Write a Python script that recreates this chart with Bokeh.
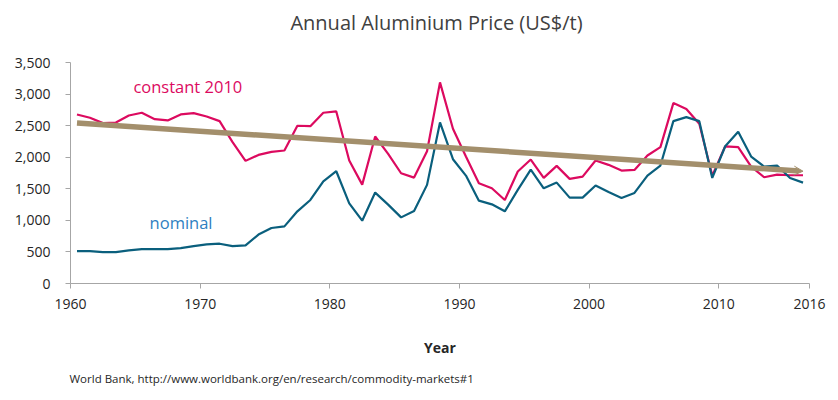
from bokeh.plotting import figure
from bokeh.models import (Range1d, FixedTicker, NumeralTickFormatter, Label, Title,
                          Arrow, OpenHead)
from bokeh.embed import file_html
from bokeh.resources import INLINE

years = list(range(1960, 2017))
constant_2010 = [2677, 2625, 2540, 2550, 2661, 2704, 2603, 2582, 2677, 2698,
                 2645, 2571, 2238, 1942, 2037, 2085, 2106, 2498, 2492, 2704,
                 2725, 1947, 1566, 2328, 2053, 1746, 1677, 2095, 3185, 2450,
                 2011, 1587, 1508, 1323, 1773, 1963, 1672, 1863, 1657, 1693,
                 1947, 1879, 1789, 1799, 2027, 2159, 2857, 2762, 2530, 1709,
                 2173, 2159, 1852, 1683, 1725, 1714, 1714]
nominal = [514, 514, 498, 498, 524, 545, 545, 545, 561, 593,
           619, 630, 593, 603, 775, 879, 905, 1143, 1323, 1619,
           1778, 1270, 995, 1440, 1249, 1047, 1149, 1562, 2550, 1968,
           1709, 1312, 1254, 1143, 1482, 1804, 1508, 1598, 1360, 1360,
           1551, 1450, 1355, 1434, 1709, 1868, 2571, 2635, 2571, 1672,
           2173, 2403, 2011, 1852, 1868, 1672, 1598]
trend_x = [1960.5, 2016.5]
trend_y = [2540, 1778]
x_ticks = [1960, 1970, 1980, 1990, 2000, 2010, 2017]
x_tick_labels = {2017: "2016"}
y_ticks = [0, 500, 1000, 1500, 2000, 2500, 3000, 3500]
y_max = 3500

FONT = "Open Sans"
PINK = "#DC0A5F"
TEAL = "#0A5F7D"
TAN = "#A38F6C"
AXIS = "#A6A6A6"

# frame spans the whole canvas height above the x axis; the axis itself stops at y_max
FRAME_H = 283
AXIS_TOP = 62
y_top = y_max * FRAME_H / (FRAME_H - AXIS_TOP)

# data placed in the middle of each year's slot
xs = [y + 0.5 for y in years]

p = figure(width=838, height=400, output_backend="svg", toolbar_location=None,
           x_range=Range1d(1960, 2017), y_range=Range1d(0, y_top),
           min_border_left=70, min_border_right=29, min_border_top=0,
           min_border_bottom=117)
p.outline_line_color = None
p.grid.visible = False
p.background_fill_color = "white"
p.border_fill_color = "white"

p.line(xs, constant_2010, line_color=PINK, line_width=2.2)
p.line(xs, nominal, line_color=TEAL, line_width=2.2)
p.add_layout(Arrow(x_start=trend_x[0], y_start=trend_y[0], x_end=trend_x[1], y_end=trend_y[1],
                   line_color=TAN, line_width=5.5,
                   end=OpenHead(size=9, line_color=TAN, line_width=1)))

p.add_layout(Label(x=1964.85, y=2940, text="constant 2010", text_color=PINK,
                   text_font=FONT, text_font_size="16.5px"))
p.add_layout(Label(x=1966.1, y=790, text="nominal", text_color="#2E7FC1",
                   text_font=FONT, text_font_size="16.5px"))

# chart title, in pixels from the frame's bottom-left corner
p.add_layout(Label(x=366, y=261, x_units="screen", y_units="screen",
                   text="Annual Aluminium Price (US$/t)", text_align="center",
                   text_baseline="middle", text_font=FONT, text_font_size="20px",
                   text_color="#404040"))

xa = p.xaxis[0]
xa.ticker = FixedTicker(ticks=x_ticks)
xa.major_label_overrides = x_tick_labels
xa.minor_tick_line_color = None
xa.major_tick_in = 0
xa.major_tick_out = 5
xa.axis_line_color = AXIS
xa.major_tick_line_color = AXIS
xa.major_label_text_font = FONT
xa.major_label_text_font_size = "14px"
xa.major_label_text_color = "#262626"
xa.major_label_standoff = 10
xa.axis_label = "Year"
xa.axis_label_text_font = FONT
xa.axis_label_text_font_style = "bold"
xa.axis_label_text_font_size = "14px"
xa.axis_label_text_color = "#262626"
xa.axis_label_standoff = 26

ya = p.yaxis[0]
ya.ticker = FixedTicker(ticks=y_ticks)
ya.bounds = (0, y_max)
ya.formatter = NumeralTickFormatter(format="0,0")
ya.minor_tick_line_color = None
ya.major_tick_in = 0
ya.major_tick_out = 5
ya.axis_line_color = AXIS
ya.major_tick_line_color = AXIS
ya.major_label_text_font = FONT
ya.major_label_text_font_size = "14px"
ya.major_label_text_color = "#262626"
ya.major_label_standoff = 15

src = Title(text="World Bank, http://www.worldbank.org/en/research/commodity-markets#1",
            align="left", offset=-1, text_font=FONT, text_font_size="11.5px",
            text_font_style="normal", text_color="#262626", standoff=19)
p.add_layout(src, "below")

open("out.html", "w").write(file_html(p, INLINE))
